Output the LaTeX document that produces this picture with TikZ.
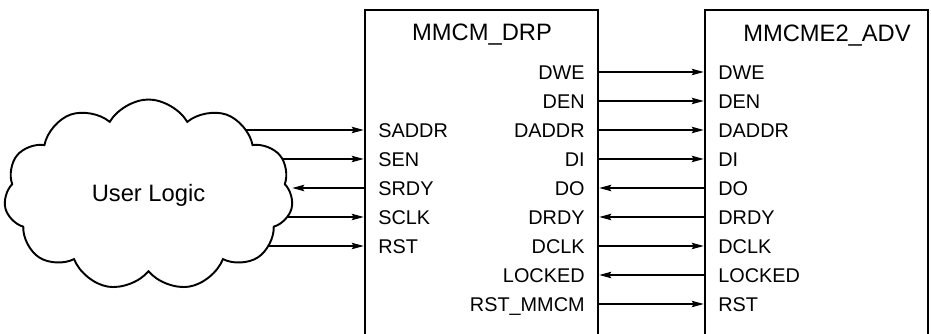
\documentclass[tikz,border=0pt]{standalone}
\usepackage{fontspec}
\setmainfont{Liberation Sans}
\usetikzlibrary{arrows.meta,positioning,shapes.symbols,backgrounds}
\tikzset{
chip/.style={draw,line width=1.5pt,minimum height=6.7cm,inner sep=0pt},
blocktitle/.style={font=\fontsize{13.5}{16}\selectfont,inner sep=0pt,text height=9.7pt,text depth=0pt},
pinlabel/.style={font=\fontsize{11.3}{13}\selectfont,inner sep=0pt,text height=8.1pt,text depth=0pt},
logic/.style={cloud,cloud puffs=11,cloud puff arc=120,aspect=1.5,draw,line width=1.1pt,fill=white,minimum width=5.78cm,minimum height=3.82cm,font=\fontsize{13.5}{16}\selectfont},
arrow/.style={-{Stealth[length=2.4mm,width=1.3mm,inset=.4mm]},line width=.6pt}
}
\begin{document}
\begin{tikzpicture}
\useasboundingbox (0,0) rectangle (18.62,-6.68);
\clip (0,0) rectangle (18.62,-6.68);
\node[chip,minimum width=4.66cm] (drp) at (9.63,-3.55) {};
\node[chip,minimum width=4.46cm] (adv) at (16.33,-3.55) {};
\node[blocktitle] (drpname) at (9.64,-0.64) {MMCM\_DRP};
\node[blocktitle] (advname) at (16.54,-0.66) {MMCME2\_ADV};
\node[logic] (ul) at (2.97,-3.90) {User Logic};
% user side of MMCM_DRP
\node[pinlabel,anchor=west] (saddr) at (7.56,-2.60) {SADDR};
\node[pinlabel,anchor=west] (sen) at (7.56,-3.18) {SEN};
\node[pinlabel,anchor=west] (srdy) at (7.56,-3.76) {SRDY};
\node[pinlabel,anchor=west] (sclk) at (7.56,-4.34) {SCLK};
\node[pinlabel,anchor=west] (rst) at (7.56,-4.92) {RST};
% DRP side of MMCM_DRP
\node[pinlabel,anchor=east] (dwe) at (11.7,-1.44) {DWE};
\node[pinlabel,anchor=east] (den) at (11.7,-2.02) {DEN};
\node[pinlabel,anchor=east] (daddr) at (11.7,-2.60) {DADDR};
\node[pinlabel,anchor=east] (di) at (11.7,-3.18) {DI};
\node[pinlabel,anchor=east] (do) at (11.7,-3.76) {DO};
\node[pinlabel,anchor=east] (drdy) at (11.7,-4.34) {DRDY};
\node[pinlabel,anchor=east] (dclk) at (11.7,-4.92) {DCLK};
\node[pinlabel,anchor=east] (locked) at (11.7,-5.50) {LOCKED};
\node[pinlabel,anchor=east] (rstmmcm) at (11.7,-6.08) {RST\_MMCM};
% MMCME2_ADV ports
\node[pinlabel,anchor=west] (adwe) at (14.36,-1.44) {DWE};
\node[pinlabel,anchor=west] (aden) at (14.36,-2.02) {DEN};
\node[pinlabel,anchor=west] (adaddr) at (14.36,-2.60) {DADDR};
\node[pinlabel,anchor=west] (adi) at (14.36,-3.18) {DI};
\node[pinlabel,anchor=west] (ado) at (14.36,-3.76) {DO};
\node[pinlabel,anchor=west] (adrdy) at (14.36,-4.34) {DRDY};
\node[pinlabel,anchor=west] (adclk) at (14.36,-4.92) {DCLK};
\node[pinlabel,anchor=west] (alocked) at (14.36,-5.50) {LOCKED};
\node[pinlabel,anchor=west] (arst) at (14.36,-6.08) {RST};
\begin{scope}[on background layer]
\draw[arrow] (ul.center |- saddr) -- (drp.west |- saddr);
\draw[arrow] (ul.center |- sen) -- (drp.west |- sen);
\draw[arrow] (ul.center |- sclk) -- (drp.west |- sclk);
\draw[arrow] (ul.center |- rst) -- (drp.west |- rst);
\end{scope}
\draw[arrow] (drp.west |- srdy) -- (ul.east |- srdy);
\draw[arrow] (drp.east |- dwe) -- (adv.west |- adwe);
\draw[arrow] (drp.east |- den) -- (adv.west |- aden);
\draw[arrow] (drp.east |- daddr) -- (adv.west |- adaddr);
\draw[arrow] (drp.east |- di) -- (adv.west |- adi);
\draw[arrow] (adv.west |- ado) -- (drp.east |- do);
\draw[arrow] (adv.west |- adrdy) -- (drp.east |- drdy);
\draw[arrow] (drp.east |- dclk) -- (adv.west |- adclk);
\draw[arrow] (adv.west |- alocked) -- (drp.east |- locked);
\draw[arrow] (drp.east |- rstmmcm) -- (adv.west |- arst);
\end{tikzpicture}
\end{document}
